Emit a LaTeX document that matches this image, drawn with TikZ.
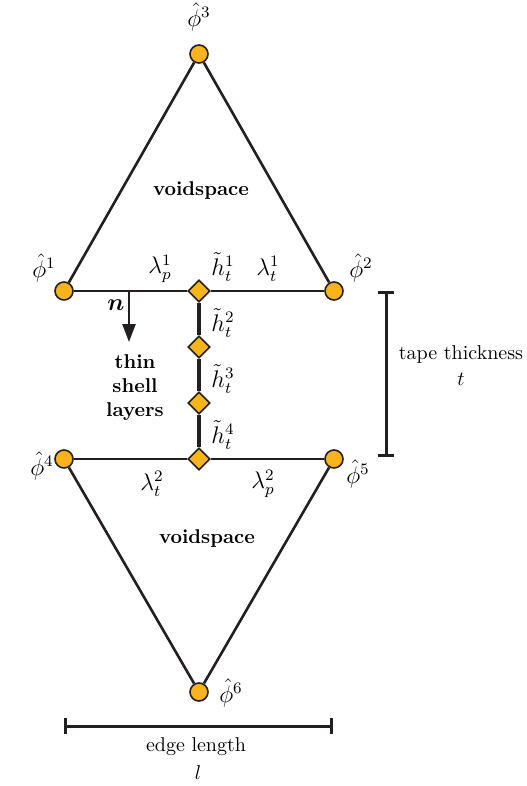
\documentclass[tikz,border=0pt]{standalone}
\usepackage{amsmath,amssymb,bm}
\usetikzlibrary{arrows.meta,positioning,calc,shapes.geometric}
\definecolor{ink}{HTML}{231F20}
\definecolor{dotfill}{HTML}{F8B41C}

\begin{document}
\begin{tikzpicture}[
  x=0.5pt, y=-0.5pt,
  edg/.style = {draw=ink, line width=1.3pt},
  thk/.style = {draw=ink, line width=2pt},
  vtx/.style = {circle, draw=ink, fill=dotfill, line width=0.8pt, minimum size=9pt, inner sep=0pt},
  lyr/.style = {diamond, draw=ink, fill=dotfill, line width=0.8pt, minimum size=11pt, inner sep=0pt},
  mlb/.style = {font=\large, inner sep=0pt},
  ttl/.style = {font=\bfseries, align=center},
  ar/.style  = {-{Triangle[length=9pt, width=6.5pt]}, draw=ink, line width=1.2pt},
  dim/.style = {{Bar[width=8pt]}-{Bar[width=8pt]}, draw=ink, line width=1.5pt}
]
\useasboundingbox (0,0) rectangle (526,786);

% ---------- vertices -----------------------------------------------
\node[vtx] (p3) at (199,54)  {};
\node[vtx] (p1) at (64,291)  {};
\node[vtx] (p2) at (334,291) {};
\node[vtx] (p4) at (64,459)  {};
\node[vtx] (p5) at (334,459) {};
\node[vtx] (p6) at (199,692) {};

% ---------- shell layer points -------------------------------------
\foreach \k/\y in {1/291,2/347,3/403,4/459}{
  \node[lyr] (h\k) at (199,\y) {};
  \node[mlb] at (223,\y-24) {$\tilde{h}_t^{\k}$};}

% ---------- edges ---------------------------------------------------
\draw[edg] (p1) -- (p3) -- (p2);
\draw[edg] (p1) -- (h1) -- (p2);
\draw[edg] (p4) -- (h4) -- (p5);
\draw[edg] (p4) -- (p6) -- (p5);
\draw[thk] (h1) -- (h2) -- (h3) -- (h4);

% ---------- vertex and edge labels ----------------------------------
\node[mlb] at (44,268)  {$\hat{\phi}^1$};
\node[mlb] at (361,268) {$\hat{\phi}^2$};
\node[mlb] at (199,17)  {$\hat{\phi}^3$};
\node[mlb] at (42,466)  {$\hat{\phi}^4$};
\node[mlb] at (358,474) {$\hat{\phi}^5$};
\node[mlb] at (231,693) {$\hat{\phi}^6$};
\node[mlb] at (160,269) {$\lambda_p^1$};
\node[mlb] at (268,269) {$\lambda_t^1$};
\node[mlb] at (152,484) {$\lambda_t^2$};
\node[mlb] at (263,484) {$\lambda_p^2$};

% ---------- normal and regions --------------------------------------
\coordinate (nb) at (129,291);
\coordinate (nt) at (129,342);
\draw[ar] (nb) -- (nt);
\node[mlb] at (116,305) {$\bm{n}$};
\node[ttl] at (135,388) {thin\\shell\\layers};
\node[ttl] at (201,191) {voidspace};
\node[ttl] at (207,538) {voidspace};

% ---------- dimensions ----------------------------------------------
\coordinate (tt) at (386,291);
\coordinate (tb) at (386,457);
\draw[dim] (tt) -- (tb);
\node[align=center] at (461,366) {tape thickness\\[1pt]$t$};
\coordinate (el) at (64,726);
\coordinate (er) at (333,726);
\draw[dim] (el) -- (er);
\node at (196,747) {edge length};
\node at (198,773) {$l$};

\end{tikzpicture}
\end{document}
